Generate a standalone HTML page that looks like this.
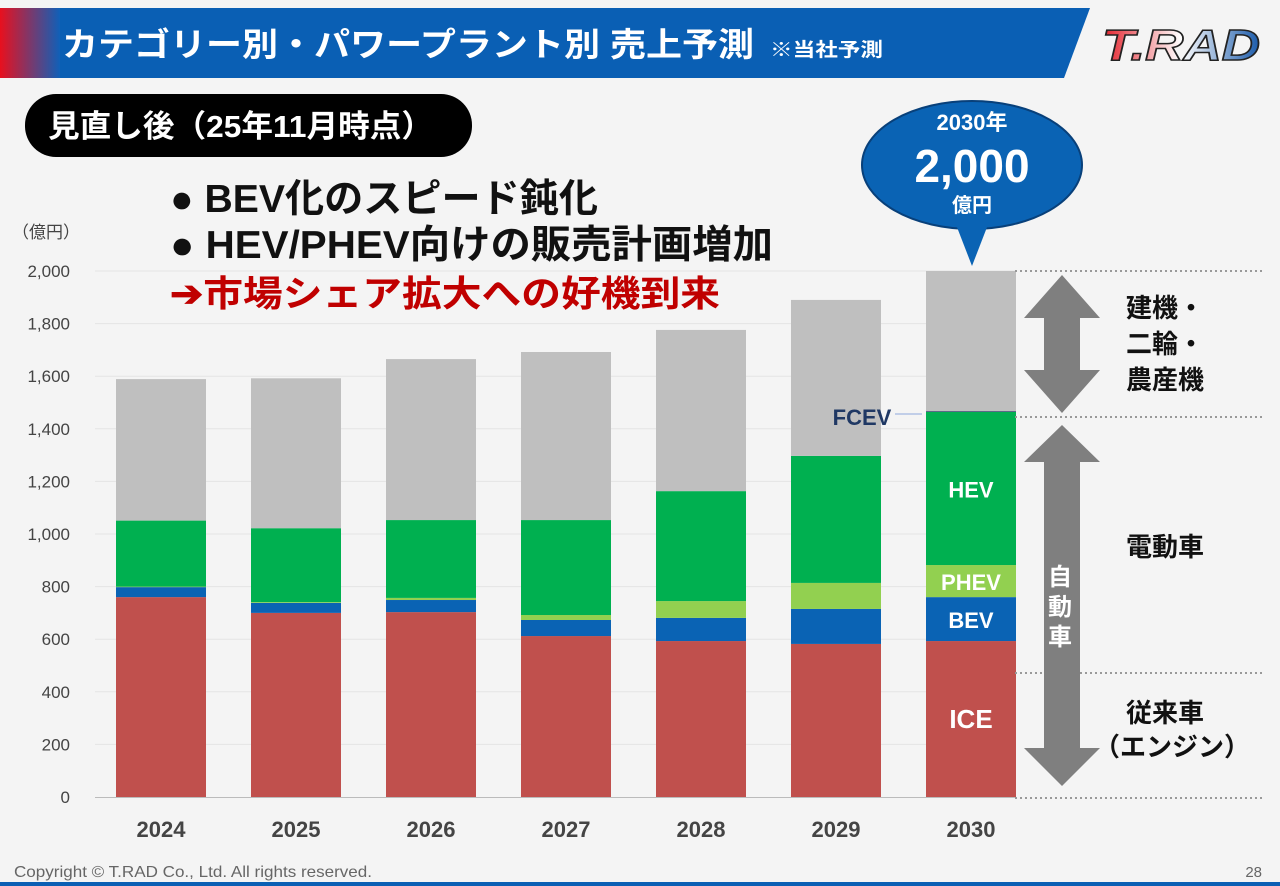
<!DOCTYPE html>
<html><head><meta charset="utf-8"><style>
body{margin:0;width:1280px;height:886px;background:#f4f4f4;font-family:"Liberation Sans","Noto Sans CJK JP",sans-serif;overflow:hidden;position:relative}
.abs{position:absolute}
</style></head><body>
<svg class="abs" style="left:0;top:0" width="1280" height="886">
<defs>
<linearGradient id="lg" x1="0" x2="1"><stop offset="0" stop-color="#e8101e"/><stop offset="1" stop-color="#1060b8"/></linearGradient>
<linearGradient id="logo" x1="0" x2="1"><stop offset="0" stop-color="#e3202a"/><stop offset="0.5" stop-color="#fff"/><stop offset="1" stop-color="#1a5aaa"/></linearGradient>
</defs>
<polygon points="0,8 1090,8 1064,78 0,78" fill="#0a5fb4"/>
<rect x="0" y="8" width="60" height="70" fill="url(#lg)"/>
<text x="62" y="56" fill="#fff" font-size="33" font-weight="bold" textLength="692" lengthAdjust="spacingAndGlyphs">カテゴリー別・パワープラント別 売上予測</text>
<text x="770" y="56" fill="#fff" font-size="19" font-weight="bold" textLength="113" lengthAdjust="spacingAndGlyphs">※当社予測</text>
<g>
<text x="1102" y="60" font-size="44" font-weight="900" font-style="italic" fill="url(#logo)" stroke="#222" stroke-width="1.5" textLength="158" lengthAdjust="spacingAndGlyphs">T.RAD</text></g>
<rect x="25" y="94" width="447" height="63" rx="31" fill="#000"/>
<text x="48" y="137" fill="#fff" font-size="31" font-weight="bold" textLength="385" lengthAdjust="spacingAndGlyphs">見直し後（25年11月時点）</text>
<text x="170" y="212" font-size="39" font-weight="bold" fill="#111" textLength="428" lengthAdjust="spacingAndGlyphs">● BEV化のスピード鈍化</text>
<text x="170" y="258" font-size="39" font-weight="bold" fill="#111" textLength="603" lengthAdjust="spacingAndGlyphs">● HEV/PHEV向けの販売計画増加</text>
<text x="170" y="306" font-size="36" font-weight="bold" fill="#c00000" textLength="550" lengthAdjust="spacingAndGlyphs">➔市場シェア拡大への好機到来</text>
<text x="12" y="238" font-size="17" fill="#444">（億円）</text>
<g id="chart"></g>
<g>
<ellipse cx="972" cy="165" rx="110" ry="64" fill="#0a63b4" stroke="#08407a" stroke-width="2"/>
<polygon points="955,222 989,222 972,266" fill="#0a63b4"/>
<text x="972" y="130" fill="#fff" font-size="22" font-weight="bold" text-anchor="middle">2030年</text>
<text x="972" y="182" fill="#fff" font-size="46" font-weight="bold" text-anchor="middle">2,000</text>
<text x="972" y="212" fill="#fff" font-size="20" font-weight="bold" text-anchor="middle">億円</text></g>
<g stroke="#999" stroke-dasharray="2,3" stroke-width="2">
<line x1="1015" y1="271" x2="1262" y2="271"/><line x1="1015" y1="417" x2="1262" y2="417"/>
<line x1="1015" y1="673" x2="1262" y2="673"/><line x1="1015" y1="798" x2="1262" y2="798"/></g>
<g fill="#7f7f7f">
<polygon points="1062,275 1100,318 1080,318 1080,370 1100,370 1062,413 1024,370 1044,370 1044,318 1024,318"/>
<polygon points="1062,425 1100,462 1080,462 1080,748 1100,748 1062,786 1024,748 1044,748 1044,462 1024,462"/></g>
<text x="1060" y="585" fill="#fff" font-size="24" font-weight="bold" text-anchor="middle">自</text>
<text x="1060" y="615" fill="#fff" font-size="24" font-weight="bold" text-anchor="middle">動</text>
<text x="1060" y="645" fill="#fff" font-size="24" font-weight="bold" text-anchor="middle">車</text>
<g font-size="26" font-weight="bold" fill="#111" text-anchor="middle">
<text x="1165" y="317">建機・</text><text x="1165" y="353">二輪・</text><text x="1165" y="389">農産機</text>
<text x="1165" y="556">電動車</text><text x="1165" y="722">従来車</text><text x="1172" y="756">（エンジン）</text></g>
<text x="862" y="425" font-size="22" font-weight="bold" fill="#1f3864" text-anchor="middle">FCEV</text>
<line x1="895" y1="414" x2="922" y2="414" stroke="#8ea9db"/>
<text x="14" y="877" font-size="16" fill="#666" textLength="358" lengthAdjust="spacingAndGlyphs">Copyright © T.RAD Co., Ltd. All rights reserved.</text>
<text x="1262" y="877" font-size="15" fill="#666" text-anchor="end">28</text>
<rect x="0" y="882" width="1280" height="4" fill="#0a5fb4"/>
</svg>
<script>
const years=["2024","2025","2026","2027","2028","2029","2030"];
const ice=[760,700,703,612,593,582,593];
const bev=[38,38,46,61,88,133,167];
const phev=[2,3,8,19,64,99,122];
const hev=[251,281,296,361,418,483,582];
const fcev=[0,0,0,0,0,0,3];
const other=[538,570,612,639,613,593,533];
const ticks=[0,200,400,600,800,1000,1200,1400,1600,1800,2000];
const NS="http://www.w3.org/2000/svg";
const g=document.getElementById('chart');
const y=v=>797-v*0.263;
const x=i=>161+i*135;
function mk(t,a){const e=document.createElementNS(NS,t);for(const k in a)e.setAttribute(k,a[k]);g.appendChild(e);return e;}
ticks.forEach(t=>{
 if(t>0){const l=mk('line',{x1:95,x2:1015,y1:y(t),y2:y(t),stroke:'#e4e4e4'});
 
 }
 const tx=mk('text',{x:70,y:y(t)+6,'font-size':17,fill:'#444','text-anchor':'end'});tx.textContent=t.toLocaleString('en-US');
 
 
});
const ax=mk('line',{x1:95,x2:1015,y1:797.5,y2:797.5,stroke:'#bbb'});


const series=[["ice",ice,"#c0504d"],["bev",bev,"#0a63b4"],["phev",phev,"#92d050"],["hev",hev,"#00b050"],["fcev",fcev,"#1f3864"],["other",other,"#bfbfbf"]];
years.forEach((yr,i)=>{
 let acc=0;
 series.forEach(([n,arr,c])=>{
  const v=arr[i];const r=mk('rect',{x:x(i)-45,width:90,y:y(acc+v),height:Math.max(0,y(acc)-y(acc+v)),fill:c});
  
  
  acc+=v;
 });
 const t=mk('text',{x:x(i),y:837,'font-size':22,'font-weight':'bold',fill:'#444','text-anchor':'middle'});t.textContent=yr;
 
 
});
const L=6;let a=0;
[["ICE",ice],["BEV",bev],["PHEV",phev],["HEV",hev]].forEach(([n,arr])=>{
 const v=arr[L];const t=mk('text',{x:x(L),y:y(a+v/2)+9,'font-size':n=="ICE"?26:22,'font-weight':'bold',fill:'#fff','text-anchor':'middle'});t.textContent=n;
 
 
 a+=v;
});
</script>
</body></html>
